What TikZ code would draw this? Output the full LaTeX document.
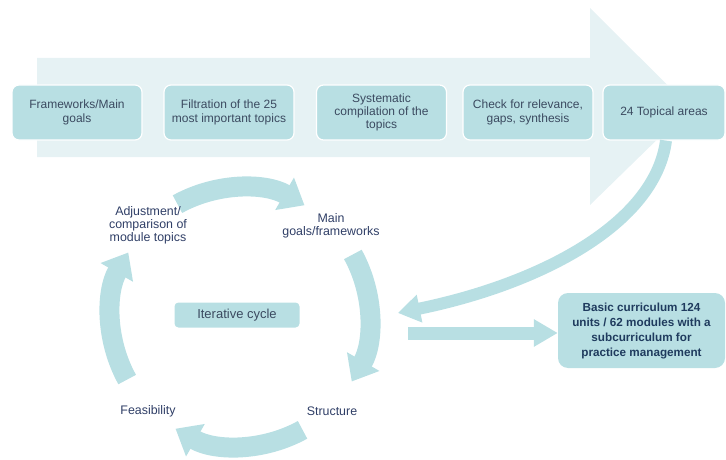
\documentclass[tikz,border=0pt]{standalone}
\usepackage{fontspec}
\setmainfont{Liberation Sans}
\usetikzlibrary{arrows.meta,calc}

\definecolor{boxteal}{HTML}{B8DFE3}
\definecolor{paleteal}{HTML}{E6F2F4}
\definecolor{labelgray}{HTML}{3B4A60}
\definecolor{labelnavy}{HTML}{2F3E66}
\definecolor{darknavy}{HTML}{1F3B5E}

\tikzset{
    stepbox/.style={draw=white, line width=1.2pt, fill=boxteal, rounded corners=7pt,
        minimum width=130pt, minimum height=55pt, inner sep=2pt, align=center,
        text=labelgray, font=\fontsize{12}{13.3}\selectfont},
    cyclelabel/.style={align=center, text=labelnavy, inner sep=1pt,
        font=\fontsize{12.4}{12.8}\selectfont},
    cyclearrow/.style={draw=boxteal, line width=20pt, -{Triangle[width=36pt,length=23pt]}},
    linkarrow/.style={draw=boxteal, line width=12pt, -{Triangle[width=27pt,length=22pt]}}
}

\begin{document}
\begin{tikzpicture}[x=1pt, y=1pt]
    \useasboundingbox (0,0) rectangle (726,459);

    % Big background arrow
    \fill[paleteal] (37,401) -- (590,401) -- (590,451) -- (690,351.5)
        -- (590,254) -- (590,302) -- (37,302) -- cycle;

    % Process steps along the arrow
    \foreach \i/\x/\txt in {1/77/{Frameworks/Main\\goals},
                            2/229/{Filtration of the 25\\most important topics},
                            3/381.5/{Systematic\\compilation of the\\topics},
                            4/528/{Check for relevance,\\gaps, synthesis}} {
        \node[stepbox] (b\i) at (\x,346.5) {\txt};
    }
    \node[stepbox, minimum width=122pt] (b5) at (664,346.5) {24 Topical areas};

    % Iterative cycle
    \coordinate (ctr) at (240,142);
    \node[fill=boxteal, rounded corners=4pt, minimum width=125pt, minimum height=25pt,
          text=labelgray, font=\fontsize{13}{15}\selectfont] (iter) at (237,144) {Iterative cycle};

    \foreach \a in {90,0,-90,180} {
        \draw[cyclearrow] ($(ctr)+(\a+29:129)$) arc[start angle=\a+29, end angle=\a-30, radius=129];
    }

    \node[cyclelabel] (goals) at (331,233) {Main\\goals/frameworks};
    \node[cyclelabel] (struct) at (332,48) {Structure};
    \node[cyclelabel] (feas) at (148,48) {Feasibility};
    \node[cyclelabel] (adjust) at (148,234) {Adjustment/\\comparison of\\module topics};

    % Result box
    \node[fill=boxteal, rounded corners=10pt, minimum width=167pt, minimum height=75pt,
          align=center, text=darknavy, font=\bfseries\fontsize{11.7}{15}\selectfont] (res) at (641.5,128.5)
        {Basic curriculum 124\\units / 62 modules with a\\subcurriculum for\\practice management};

    % Connectors
    \coordinate (cin) at (398,146);
    \draw[linkarrow] ([xshift=2pt]b5.south) .. controls (655,235) and (540,175) .. (cin);
    \coordinate (sa) at (408,126);
    \draw[draw=boxteal, line width=13pt, -{Triangle[width=26pt,length=24pt]}] (sa) -- (sa -| res.west);
\end{tikzpicture}
\end{document}
